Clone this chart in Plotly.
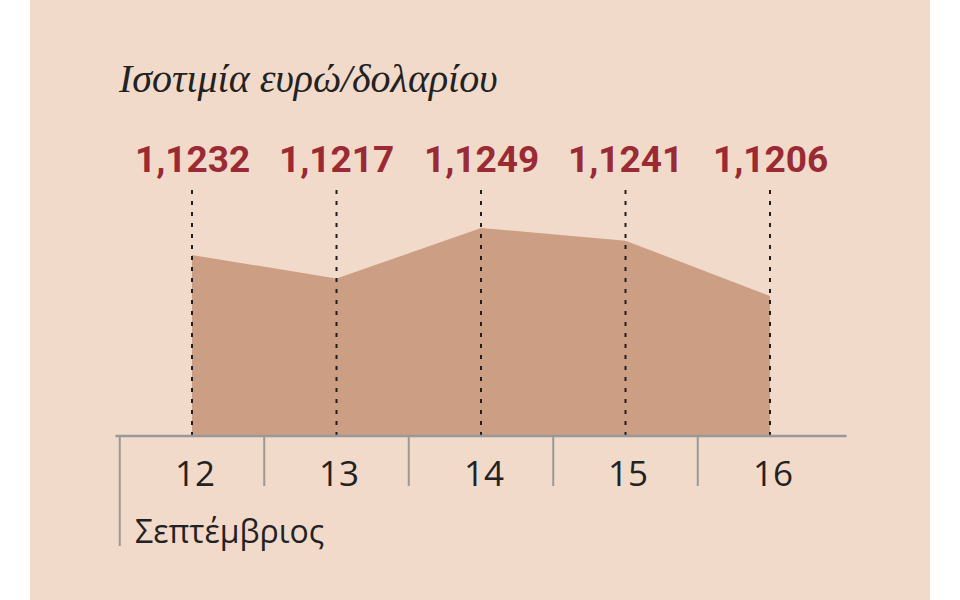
import plotly.graph_objects as go

# Data
days = ["12", "13", "14", "15", "16"]
rates = [1.1232, 1.1217, 1.1249, 1.1241, 1.1206]
month = "Σεπτέμβριος"
title = "Ισοτιμία ευρώ/δολαρίου"

base = 1.11175  # value at the baseline
W, H = 960, 600

def py(p):
    # pixel row -> paper y
    return 1 - p / H

xs = list(range(len(days)))

fig = go.Figure()

# baseline trace, then area filled to it
fig.add_trace(go.Scatter(x=xs, y=[base] * len(xs), mode="lines",
                         line=dict(width=0), hoverinfo="skip", showlegend=False))
fig.add_trace(go.Scatter(x=xs, y=rates, mode="lines", fill="tonexty",
                         fillcolor="#cc9f85", line=dict(width=0, color="#cc9f85"),
                         showlegend=False))

shapes = []
# background panel
shapes.append(dict(type="rect", xref="paper", yref="paper", x0=30 / W, x1=930 / W,
                   y0=0, y1=1, fillcolor="#f2dacb", line=dict(width=0), layer="below"))

# dashed guides from label to baseline
for i in xs:
    shapes.append(dict(type="line", xref="x", yref="paper", x0=i, x1=i,
                       y0=py(436), y1=py(190),
                       line=dict(color="#1e1e1e", width=2, dash="4px,7px")))

# baseline
shapes.append(dict(type="line", xref="x", yref="paper", x0=-0.53, x1=4.53,
                   y0=py(436), y1=py(436), line=dict(color="#999999", width=2.5)))

# category separators
for i in xs:
    bottom = 546 if i == 0 else 486
    shapes.append(dict(type="line", xref="x", yref="paper", x0=i - 0.5, x1=i - 0.5,
                       y0=py(436), y1=py(bottom), line=dict(color="#999999", width=2)))

annotations = []
annotations.append(dict(text=title, xref="paper", yref="paper", x=116 / W, y=py(78),
                        xanchor="left", yanchor="middle", showarrow=False,
                        font=dict(family="Liberation Serif, DejaVu Serif", size=40,
                                  color="#222222", style="italic")))

for i, v in zip(xs, rates):
    annotations.append(dict(text=f"{v:.4f}".replace(".", ","), xref="x", yref="paper",
                            x=i, y=py(160), xanchor="center", yanchor="middle",
                            showarrow=False,
                            font=dict(family="Roboto", size=37, color="#9a2a33",
                                      weight="bold")))

for i, d in zip(xs, days):
    annotations.append(dict(text=d, xref="x", yref="paper", x=i + 0.02, y=py(472),
                            xanchor="center", yanchor="middle", showarrow=False,
                            font=dict(family="Open Sans", size=35, color="#222222")))

annotations.append(dict(text=month, xref="paper", yref="paper", x=133 / W, y=py(530),
                        xanchor="left", yanchor="middle", showarrow=False,
                        font=dict(family="Open Sans", size=32, color="#222222")))

px_per_unit = 144.5
x0_px = 192
ppv = 68 / (rates[2] - rates[4])  # pixels per unit of rate

fig.update_layout(
    width=W, height=H,
    margin=dict(l=0, r=0, t=0, b=0),
    paper_bgcolor="white",
    plot_bgcolor="rgba(0,0,0,0)",
    xaxis=dict(range=[-x0_px / px_per_unit, (W - x0_px) / px_per_unit],
               visible=False, fixedrange=True),
    yaxis=dict(range=[rates[4] - (H - 296) / ppv, rates[4] + 296 / ppv],
               visible=False, fixedrange=True),
    shapes=shapes,
    annotations=annotations,
    showlegend=False,
)

fig.write_html("out.html", config={"displayModeBar": False},
               post_script="document.body.style.margin='0';document.body.style.overflow='hidden';")
